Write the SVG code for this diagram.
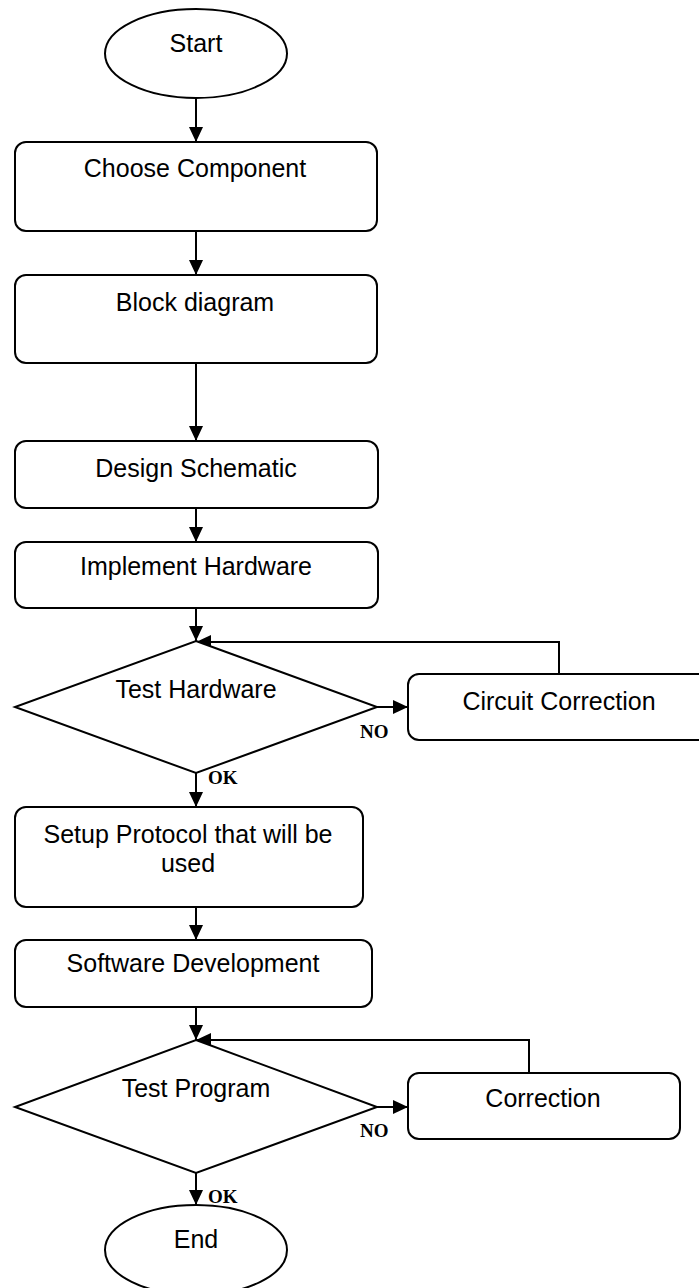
<svg xmlns="http://www.w3.org/2000/svg" width="699" height="1288" viewBox="0 0 699 1288">
  <style>
    .shape { fill: #ffffff; stroke: #000000; stroke-width: 2; }
    .wire { fill: none; stroke: #000000; stroke-width: 2; }
    .label { font-family: "Liberation Sans", Arial, sans-serif; font-size: 25px; fill: #000000; text-anchor: middle; }
    .branch { font-family: "Liberation Serif", "Times New Roman", serif; font-size: 19px; font-weight: bold; fill: #000000; }
  </style>
  <defs>
    <marker id="arrow" markerUnits="userSpaceOnUse" markerWidth="16" markerHeight="14" refX="15" refY="7" orient="auto">
      <path d="M0,0 L15,7 L0,14 Z" fill="#000000"/>
    </marker>
  </defs>
  <rect width="699" height="1288" fill="#ffffff"/>

  <!-- connectors -->
  <g id="connectors">
    <line class="wire" x1="196" y1="98" x2="196" y2="142" marker-end="url(#arrow)"/>
    <line class="wire" x1="196" y1="231" x2="196" y2="275" marker-end="url(#arrow)"/>
    <line class="wire" x1="196" y1="363" x2="196" y2="441" marker-end="url(#arrow)"/>
    <line class="wire" x1="196" y1="508" x2="196" y2="542" marker-end="url(#arrow)"/>
    <line class="wire" x1="196" y1="608" x2="196" y2="641" marker-end="url(#arrow)"/>
    <line class="wire" x1="377" y1="707" x2="408" y2="707" marker-end="url(#arrow)"/>
    <polyline class="wire" points="559,674 559,642 196,642" marker-end="url(#arrow)"/>
    <line class="wire" x1="196" y1="773" x2="196" y2="807" marker-end="url(#arrow)"/>
    <line class="wire" x1="196" y1="907" x2="196" y2="940" marker-end="url(#arrow)"/>
    <line class="wire" x1="196" y1="1007" x2="196" y2="1040" marker-end="url(#arrow)"/>
    <line class="wire" x1="377" y1="1107" x2="408" y2="1107" marker-end="url(#arrow)"/>
    <polyline class="wire" points="529,1073 529,1040 196,1040" marker-end="url(#arrow)"/>
    <line class="wire" x1="196" y1="1173" x2="196" y2="1205" marker-end="url(#arrow)"/>
    <text class="branch" x="360" y="738">NO</text>
    <text class="branch" x="208" y="784">OK</text>
    <text class="branch" x="360" y="1137">NO</text>
    <text class="branch" x="208" y="1203">OK</text>
  </g>

  <!-- nodes -->
  <g id="start">
    <ellipse class="shape" cx="196" cy="53.5" rx="91" ry="44.5"/>
    <text class="label" x="196" y="52">Start</text>
  </g>
  <g id="choose-component">
    <rect class="shape" x="15" y="142" width="362" height="89" rx="11" ry="11"/>
    <text class="label" x="195" y="177">Choose Component</text>
  </g>
  <g id="block-diagram">
    <rect class="shape" x="15" y="275" width="362" height="88" rx="11" ry="11"/>
    <text class="label" x="195" y="311">Block diagram</text>
  </g>
  <g id="design-schematic">
    <rect class="shape" x="15" y="441" width="363" height="67" rx="11" ry="11"/>
    <text class="label" x="196" y="477">Design Schematic</text>
  </g>
  <g id="implement-hardware">
    <rect class="shape" x="15" y="542" width="363" height="66" rx="11" ry="11"/>
    <text class="label" x="196" y="575">Implement Hardware</text>
  </g>
  <g id="test-hardware">
    <polygon class="shape" points="196,641 377,707 196,773 15,707"/>
    <text class="label" x="196" y="698">Test Hardware</text>
  </g>
  <g id="circuit-correction">
    <rect class="shape" x="408" y="674" width="310" height="66" rx="11" ry="11"/>
    <text class="label" x="559" y="710">Circuit Correction</text>
  </g>
  <g id="setup-protocol">
    <rect class="shape" x="15" y="807" width="348" height="100" rx="11" ry="11"/>
    <text class="label" x="188" y="843">Setup Protocol that will be</text>
    <text class="label" x="188" y="872">used</text>
  </g>
  <g id="software-development">
    <rect class="shape" x="15" y="940" width="357" height="67" rx="11" ry="11"/>
    <text class="label" x="193" y="972">Software Development</text>
  </g>
  <g id="test-program">
    <polygon class="shape" points="196,1040 377,1107 196,1173 15,1107"/>
    <text class="label" x="196" y="1097">Test Program</text>
  </g>
  <g id="correction">
    <rect class="shape" x="408" y="1073" width="272" height="66" rx="11" ry="11"/>
    <text class="label" x="543" y="1107">Correction</text>
  </g>
  <g id="end">
    <ellipse class="shape" cx="196" cy="1250" rx="91" ry="45"/>
    <text class="label" x="196" y="1248">End</text>
  </g>
</svg>
